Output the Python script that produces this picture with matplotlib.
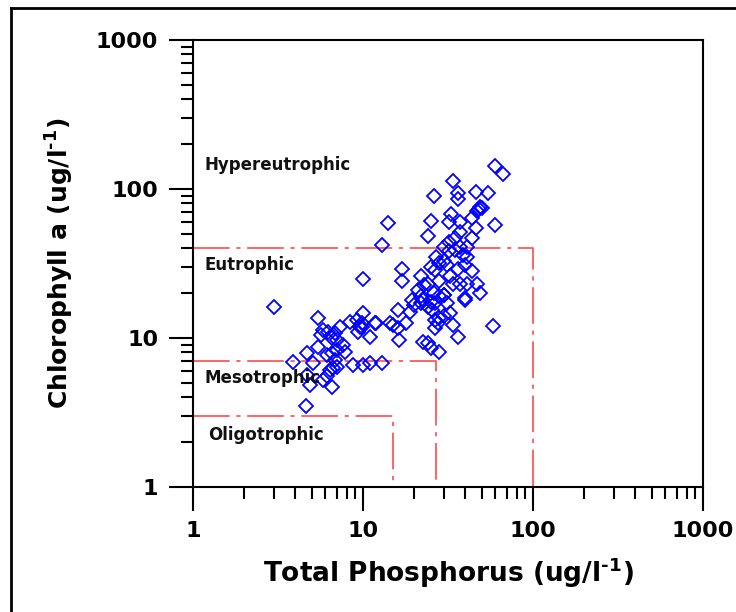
import numpy as np
from matplotlib import pyplot as plt
from matplotlib.lines import Line2D
from matplotlib.ticker import LogLocator, NullFormatter, FixedFormatter, FixedLocator

plt.rcParams['font.family'] = ['DejaVu Sans']
plt.rcParams['mathtext.fontset'] = 'custom'
plt.rcParams['mathtext.bf'] = 'DejaVu Sans:bold'
plt.rcParams['mathtext.rm'] = 'DejaVu Sans:bold'
plt.rcParams['mathtext.default'] = 'bf'

# total phosphorus (ug/l) and chlorophyll a (ug/l)
tp = [60, 67, 34, 26, 36, 36, 46, 54, 49, 48, 50, 47,
      14, 25, 33, 32, 37, 44, 60, 24, 46, 37, 35, 44,
      13, 32, 30, 37, 41, 27, 32, 39, 41, 17, 17, 10,
      22, 25, 28, 31, 36, 44, 24, 28, 37, 41, 47, 49,
      22, 26, 30, 40, 23, 34, 40, 22.5, 25, 30, 28, 20,
      22, 24, 26.5, 31, 16, 19, 25.5, 32.5, 30, 28, 10, 26.5,
      27.6, 12, 15, 14.4, 18, 34, 26.5, 58, 9.9, 16, 11, 16.3,
      36, 22.5, 24, 25, 28, 10, 11, 13, 3.0, 5.4, 8.4, 9.2,
      9.9, 9.6, 9.3, 11.8, 7.3, 5.8, 6.2, 6.8, 5.7, 6.6, 7.0, 5.4,
      7.6, 4.7, 7.0, 7.8, 6.1, 6.6, 3.9, 5.1, 6.8, 7.0, 6.7, 6.4,
      8.7, 4.7, 6.1, 5.8, 4.9, 6.6, 4.6, 30, 35, 26.5, 32.5, 40,
      21, 19.4]
chla = [142, 126, 113, 90, 94, 85, 95, 94, 76, 73, 74, 71,
        59, 61, 68, 60, 60, 64, 57, 48, 55, 51, 47, 47,
        42, 44, 41, 41, 41, 35, 38, 36, 35, 29, 24, 25,
        26, 30, 32, 31, 29, 28, 23, 24, 23, 23, 23, 20,
        19, 20, 19.4, 18.5, 22.6, 23, 18, 18, 17.4, 19.4, 19, 16.6,
        17, 16, 17, 17, 15.4, 15, 15.4, 14.7, 14, 13.6, 14.7, 13.2,
        12.6, 12.6, 12.2, 12.6, 12.6, 12.2, 11.6, 12, 11.8, 11.6, 10.1, 9.7,
        10.1, 9.4, 9.2, 8.5, 8.0, 6.6, 6.8, 6.8, 16, 13.6, 12.8, 13.2,
        12.6, 11.8, 10.9, 12.6, 11.8, 11.3, 10.9, 10.8, 10.4, 10, 9.7, 8.7,
        8.9, 7.9, 8.3, 8.0, 7.7, 7.9, 6.9, 6.8, 7.1, 6.4, 6.3, 6.1,
        6.6, 5.6, 5.5, 5.2, 4.8, 4.7, 3.5, 33, 39, 28.5, 26, 31,
        21, 18]

# trophic state boundaries
chl_bounds = [3, 7, 40]
tp_bounds = [15, 27, 100]
states = ['Oligotrophic', 'Mesotrophic', 'Eutrophic', 'Hypereutrophic']
state_x = [1.22, 1.17, 1.17, 1.17]
state_y = [2.22, 5.37, 30.8, 145]

fig = plt.figure(figsize=(7.36, 6.12), dpi=100)
ax = fig.add_axes([193/736, 1 - 486.7/612, 510/736, 446.7/612])

ax.set_xscale('log')
ax.set_yscale('log')
ax.set_xlim(1, 1000)
ax.set_ylim(1, 1000)

for c, p in zip(chl_bounds, tp_bounds):
    ax.plot([1, p, p], [c, c, 1], color='#ff4a4a', lw=1.2,
            linestyle=(0, (22, 4, 2.5, 4)), zorder=2)

ax.plot(tp, chla, linestyle='none', marker='D', markersize=6.8,
        markerfacecolor='none', markeredgecolor='#0000ff',
        markeredgewidth=1.3, zorder=3)

for name, sx, sy in zip(states, state_x, state_y):
    ax.text(sx, sy, name, fontsize=12, fontweight='bold', ha='left',
            va='center', zorder=4, color='#111111')

majors = [1, 10, 100, 1000]
for axis in (ax.xaxis, ax.yaxis):
    axis.set_major_locator(FixedLocator(majors))
    axis.set_major_formatter(FixedFormatter([str(m) for m in majors]))
    axis.set_minor_locator(LogLocator(base=10, subs=np.arange(2, 10)))
    axis.set_minor_formatter(NullFormatter())

ax.tick_params(which='major', direction='out', length=17, width=1.5,
               labelsize=16, pad=8)
ax.tick_params(which='minor', direction='out', length=8.5, width=1.5)
for lab in ax.get_xticklabels() + ax.get_yticklabels():
    lab.set_fontweight('bold')

for s in ax.spines.values():
    s.set_linewidth(1.5)

ax.set_xlabel('Total Phosphorus (ug/l$^{\\text{-}1}$)', fontsize=19,
              fontweight='bold', labelpad=10)
ax.set_ylabel('Chlorophyll a (ug/l$^{\\text{-}1}$)', fontsize=18,
              fontweight='bold', labelpad=14)

# outer frame of the picture
fx = 11/736
fy = 1 - 8/612
fig.add_artist(Line2D([fx, fx], [0, fy], transform=fig.transFigure,
                      color='black', lw=2))
fig.add_artist(Line2D([fx, 1], [fy, fy], transform=fig.transFigure,
                      color='black', lw=2))

fig.savefig('out.png', dpi=100)
